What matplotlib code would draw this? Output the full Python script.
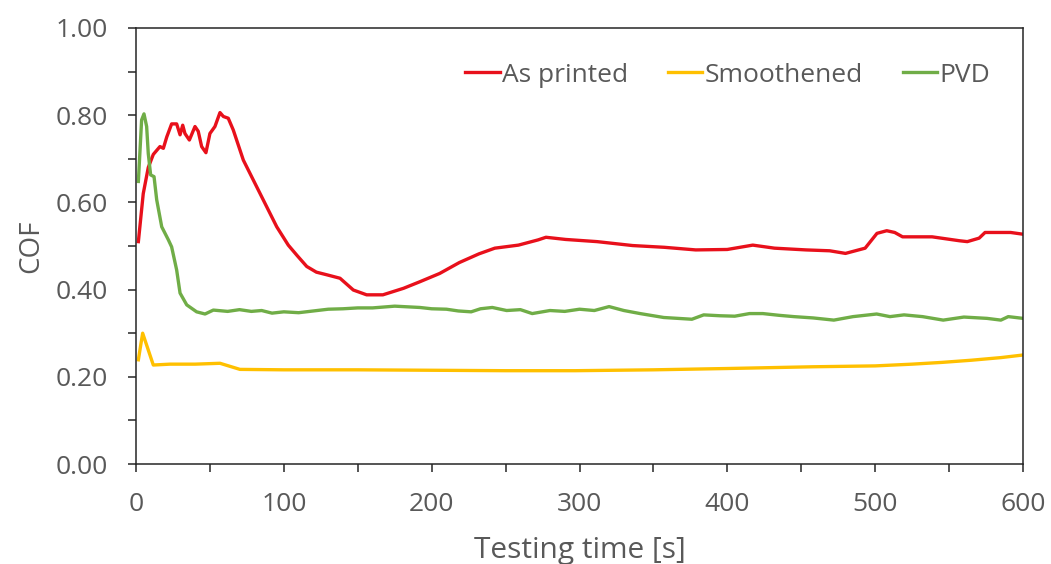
import matplotlib.pyplot as plt
from matplotlib.ticker import MultipleLocator, FormatStrFormatter

plt.rcParams['font.family'] = ['Open Sans', 'DejaVu Sans']

# As printed
t_red = [1.6, 4.9, 8.3, 11.7, 16.2, 18.5, 20.8, 24.1, 27.5, 29.8, 31.6, 33.1,
         36.1, 39.9, 42.1, 44.4, 47.3, 50.0, 53.4, 56.8, 59.1, 62.4, 65.8,
         72.6, 81.6, 88.4, 95.2, 103, 109, 115.5, 122, 129, 138, 147, 156,
         167, 181, 192, 205.4, 218.7, 232, 242.7, 258.7, 272, 277.3, 290.6,
         311.9, 335.9, 357.3, 378.6, 399.9, 417.2, 431.9, 453.2, 469.2,
         479.9, 493.2, 501.2, 507.8, 513.2, 518.5, 538.5, 557, 562.3, 570.3,
         574.3, 591.6, 600]
cof_red = [0.51, 0.62, 0.68, 0.71, 0.728, 0.724, 0.75, 0.78, 0.78, 0.755,
           0.777, 0.758, 0.743, 0.774, 0.763, 0.728, 0.714, 0.758, 0.774,
           0.806, 0.797, 0.793, 0.766, 0.697, 0.636, 0.59, 0.544, 0.502,
           0.478, 0.453, 0.44, 0.434, 0.426, 0.399, 0.388, 0.388, 0.403,
           0.418, 0.437, 0.462, 0.482, 0.495, 0.502, 0.514, 0.52, 0.515,
           0.51, 0.501, 0.497, 0.491, 0.492, 0.502, 0.495, 0.491, 0.489,
           0.483, 0.495, 0.529, 0.535, 0.531, 0.521, 0.521, 0.512, 0.51,
           0.518, 0.531, 0.531, 0.527]

# Smoothened
t_yel = [1.6, 4.5, 11.7, 23, 40, 56.8, 70.3, 100, 150, 200, 250, 297, 350,
         400, 458, 500, 525, 545, 565, 585, 600]
cof_yel = [0.239, 0.30, 0.227, 0.229, 0.229, 0.231, 0.217, 0.216, 0.216,
           0.215, 0.214, 0.214, 0.216, 0.219, 0.223, 0.225, 0.229, 0.233,
           0.238, 0.244, 0.25]

# PVD
t_grn = [1.6, 3.8, 5.4, 7.2, 8.3, 9.9, 12.2, 14, 17.4, 21.9, 24.1, 27.5,
         29.8, 34.3, 41, 46.7, 52.3, 62, 70, 78, 85, 92, 100, 110, 120, 130,
         140, 150, 160, 175, 192, 200, 210, 218, 226.7, 233, 241, 250.7,
         260, 268, 280, 290, 300, 310, 320, 330, 341, 357, 376, 384, 395,
         405, 415, 424, 435, 445, 458, 472, 485, 501, 510, 519.5, 532, 546,
         560, 575.6, 585, 590, 600]
cof_grn = [0.648, 0.789, 0.803, 0.774, 0.712, 0.663, 0.659, 0.606, 0.544,
           0.514, 0.498, 0.445, 0.392, 0.365, 0.349, 0.344, 0.353, 0.350,
           0.354, 0.350, 0.352, 0.346, 0.349, 0.347, 0.351, 0.355, 0.356,
           0.358, 0.358, 0.362, 0.359, 0.356, 0.355, 0.351, 0.349, 0.356,
           0.359, 0.352, 0.354, 0.345, 0.352, 0.350, 0.355, 0.352, 0.361,
           0.352, 0.345, 0.336, 0.332, 0.342, 0.340, 0.339, 0.345, 0.345,
           0.341, 0.338, 0.335, 0.330, 0.338, 0.344, 0.338, 0.342, 0.338,
           0.330, 0.337, 0.334, 0.330, 0.338, 0.334]

grey = '#595959'

fig = plt.figure(figsize=(10.51, 5.64), dpi=100)
ax = fig.add_axes([0.1294, 0.1773, 0.844, 0.7731])

ax.plot(t_red, cof_red, color='#E8101B', lw=2.4, label='As printed')
ax.plot(t_yel, cof_yel, color='#FFC000', lw=2.4, label='Smoothened')
ax.plot(t_grn, cof_grn, color='#70AD47', lw=2.4, label='PVD')

ax.set_xlim(0, 600)
ax.set_ylim(0, 1.0)
ax.xaxis.set_major_locator(MultipleLocator(100))
ax.xaxis.set_minor_locator(MultipleLocator(50))
ax.yaxis.set_major_locator(MultipleLocator(0.2))
ax.yaxis.set_minor_locator(MultipleLocator(0.1))
ax.yaxis.set_major_formatter(FormatStrFormatter('%.2f'))

for s in ax.spines.values():
    s.set_color('#262626')
    s.set_linewidth(1.1)
ax.tick_params(which='both', direction='out', length=6, width=1.1,
               color='#262626', labelcolor=grey, labelsize=19)
ax.tick_params(axis='x', which='both', top=False, pad=14)
ax.tick_params(axis='y', which='both', right=False, pad=14)

ax.set_xlabel('Testing time [s]', fontsize=21.5, color=grey, labelpad=14)
ax.set_ylabel('COF', fontsize=20, color=grey, labelpad=8)

ax.legend(loc='upper right', ncol=3, frameon=False, fontsize=19,
          labelcolor=grey, handlelength=1.3, handletextpad=0.1,
          columnspacing=1.5, bbox_to_anchor=(0.99, 0.975))

fig.savefig('out.png', dpi=100)
